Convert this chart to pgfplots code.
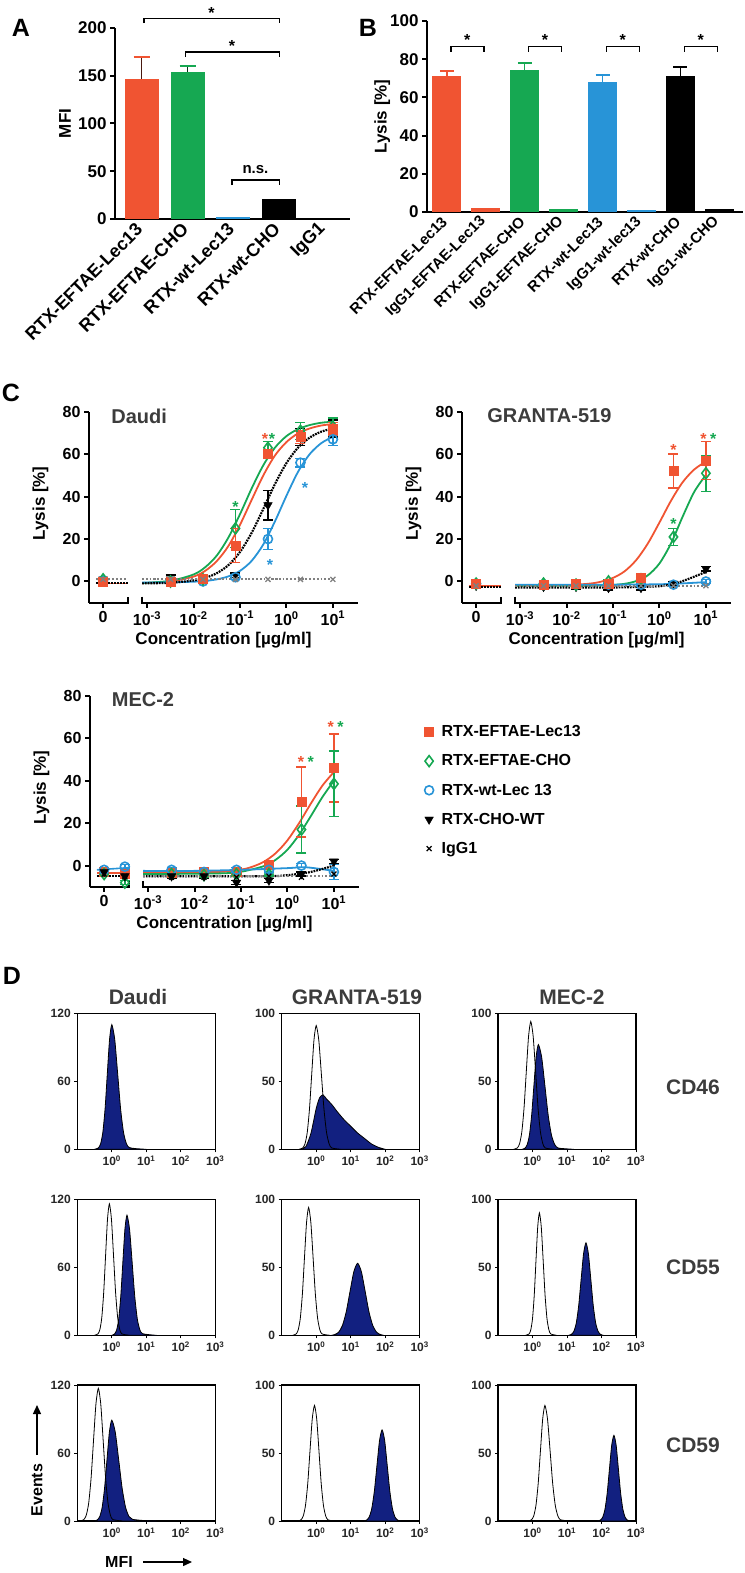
\documentclass[border=0pt]{standalone}
\usepackage{pgfplots}
\pgfplotsset{compat=1.18}
\usepackage{fontspec}
\setmainfont{Liberation Sans}
\usetikzlibrary{arrows.meta}
\definecolor{cred}{RGB}{240,84,50}
\definecolor{cgreen}{RGB}{22,168,82}
\definecolor{cblue}{RGB}{40,148,215}
\definecolor{cnavy}{RGB}{18,32,128}
\definecolor{ctitle}{RGB}{60,60,60}
\newcommand{\fs}[1]{\fontsize{#1}{#1}\selectfont\bfseries}
\pgfplotsset{
 base/.style={scale only axis, axis lines=left, axis line style={-, line width=2pt},
   every tick/.style={line width=2pt, black}, tick align=outside, major tick length=5pt,
   /pgf/number format/assume math mode=true, clip=false},
 cax/.style={base, width=269pt, height=191pt, xmin=-4.25, xmax=1.54, ymin=-10, ymax=80,
   ytick={0,20,...,80}, xtick={-3.946,-3,-2,-1,0,1},
   xticklabels={0,10\textsuperscript{-3},10\textsuperscript{-2},10\textsuperscript{-1},10\textsuperscript{0},10\textsuperscript{1}},
   x axis line style={draw=none}, ticklabel style={font=\fs{16}},
   xlabel={Concentration [µg/ml]}, xlabel style={font=\fs{17}},
   ylabel={Lysis [\%]}, ylabel style={at={(axis description cs:-0.18,0.52)}, anchor=center, font=\fs{17}}},
 cur/.style={line width=1.8pt, smooth, forget plot},
 mred/.style={only marks, mark=square*, mark size=4.5pt, cred, error bars/.cd, y dir=both, y explicit,
   error bar style={cred, line width=1.4pt}, error mark options={rotate=90, cred, line width=1.4pt, mark size=5pt}},
 mgreen/.style={only marks, mark=diamond, mark size=5.5pt, cgreen, line width=1.6pt, mark options={fill=white},
   error bars/.cd, y dir=both, y explicit,
   error bar style={cgreen, line width=1.4pt}, error mark options={rotate=90, cgreen, line width=1.4pt, mark size=5pt}},
 mblue/.style={only marks, mark=o, mark size=4.5pt, cblue, line width=1.6pt, mark options={fill=white},
   error bars/.cd, y dir=both, y explicit,
   error bar style={cblue, line width=1.4pt}, error mark options={rotate=90, cblue, line width=1.4pt, mark size=5pt}},
 mblack/.style={only marks, mark=triangle*, mark size=5pt, black, mark options={rotate=180},
   error bars/.cd, y dir=both, y explicit,
   error bar style={black, line width=1.4pt}, error mark options={rotate=90, black, line width=1.4pt, mark size=5pt}},
 migg/.style={only marks, mark=x, mark size=3.5pt, gray, line width=1.3pt},
 hax/.style={scale only axis, width=138pt, height=136pt, xmin=-1, xmax=3, ymin=0,
   axis line style={line width=1.4pt}, every tick/.style={line width=1pt, black}, tick align=outside,
   major tick length=3pt, tick pos=left, xtick={0,1,2,3},
   xticklabels={10\textsuperscript{0},10\textsuperscript{1},10\textsuperscript{2},10\textsuperscript{3}},
   ticklabel style={font=\fs{12}, text=black!85}, /pgf/number format/assume math mode=true},
 hfill/.style={fill=cnavy, draw=black, line width=0.8pt, smooth, tension=0.4},
 hctl/.style={black, line width=0.8pt, smooth, tension=0.4},
}
\begin{document}
\begin{tikzpicture}
\path[use as bounding box] (0pt,0pt) rectangle (744pt,-1573pt);
% panel letters
\node[font=\fs{25}] at (21pt,-28pt) {A};
\node[font=\fs{25}] at (368pt,-28pt) {B};
\node[font=\fs{25}] at (11pt,-393pt) {C};
\node[font=\fs{25}] at (12pt,-976pt) {D};

% ---------------- A ----------------
\begin{axis}[base, at={(115pt,-28pt)}, anchor=north west, width=235pt, height=191pt,
  xmin=-0.58, xmax=4.54, ymin=0, ymax=200, ytick={0,50,...,200},
  xtick={0,...,4}, xticklabels={RTX-EFTAE-Lec13,RTX-EFTAE-CHO,RTX-wt-Lec13,RTX-wt-CHO,IgG1},
  xtick style={draw=none}, xticklabel style={rotate=45, anchor=east, font=\fs{18}},
  yticklabel style={font=\fs{17}},
  ylabel={MFI}, ylabel style={at={(axis description cs:-0.213,0.5)}, anchor=center, font=\fs{17}}]
\addplot[ybar, bar shift=0pt, bar width=34pt, fill=cred, draw=none,
  error bars/.cd, y dir=plus, y explicit, error bar style={black!70!cred, line width=1pt},
  error mark options={rotate=90, cred, line width=2pt, mark size=8pt}] coordinates {(0,147) +- (0,23)};
\addplot[ybar, bar shift=0pt, bar width=34pt, fill=cgreen, draw=none,
  error bars/.cd, y dir=plus, y explicit, error bar style={black!70!cgreen, line width=1pt},
  error mark options={rotate=90, cgreen, line width=2pt, mark size=8pt}] coordinates {(1,154) +- (0,6)};
\addplot[ybar, bar shift=0pt, bar width=34pt, fill=cblue, draw=none] coordinates {(2,2)};
\addplot[ybar, bar shift=0pt, bar width=34pt, fill=black, draw=none] coordinates {(3,21)};
\addplot[ybar, bar shift=0pt, bar width=34pt, fill=black, draw=none] coordinates {(4,0.5)};
\draw[line width=1.3pt] (axis cs:0.05,205.2) -- (axis cs:0.05,210.2) -- (axis cs:3,210.2) -- (axis cs:3,205.2);
\node[font=\fs{16}] at (axis cs:1.52,216) {*};
\draw[line width=1.3pt] (axis cs:0.95,169.6) -- (axis cs:0.95,174.9) -- (axis cs:3,174.9) -- (axis cs:3,169.6);
\node[font=\fs{16}] at (axis cs:1.97,181) {*};
\draw[line width=1.3pt] (axis cs:1.97,35.6) -- (axis cs:1.97,40.8) -- (axis cs:3,40.8) -- (axis cs:3,35.6);
\node[font=\fs{15}] at (axis cs:2.48,52) {n.s.};
\end{axis}

% ---------------- B ----------------
\begin{axis}[base, at={(427pt,-21pt)}, anchor=north west, width=316pt, height=191pt,
  xmin=-0.514, xmax=7.61, ymin=0, ymax=100, ytick={0,20,...,100},
  xtick={0,...,7}, xticklabels={RTX-EFTAE-Lec13,IgG1-EFTAE-Lec13,RTX-EFTAE-CHO,IgG1-EFTAE-CHO,RTX-wt-Lec13,IgG1-wt-lec13,RTX-wt-CHO,IgG1-wt-CHO},
  xtick style={draw=none}, xticklabel style={rotate=45, anchor=east, font=\fs{15}},
  yticklabel style={font=\fs{17}},
  ylabel={Lysis [\%]}, ylabel style={at={(axis description cs:-0.142,0.5)}, anchor=center, font=\fs{17}}]
\addplot[ybar, bar shift=0pt, bar width=29pt, fill=cred, draw=none,
  error bars/.cd, y dir=plus, y explicit, error bar style={cred, line width=1.2pt},
  error mark options={rotate=90, cred, line width=2pt, mark size=7pt}] coordinates {(0,71) +- (0,3)};
\addplot[ybar, bar shift=0pt, bar width=29pt, fill=cred, draw=none] coordinates {(1,2)};
\addplot[ybar, bar shift=0pt, bar width=29pt, fill=cgreen, draw=none,
  error bars/.cd, y dir=plus, y explicit, error bar style={cgreen, line width=1.2pt},
  error mark options={rotate=90, cgreen, line width=2pt, mark size=7pt}] coordinates {(2,74.5) +- (0,3.5)};
\addplot[ybar, bar shift=0pt, bar width=29pt, fill=cgreen, draw=none] coordinates {(3,1.5)};
\addplot[ybar, bar shift=0pt, bar width=29pt, fill=cblue, draw=none,
  error bars/.cd, y dir=plus, y explicit, error bar style={cblue, line width=1.2pt},
  error mark options={rotate=90, cblue, line width=2pt, mark size=7pt}] coordinates {(4,68) +- (0,3.5)};
\addplot[ybar, bar shift=0pt, bar width=29pt, fill=cblue, draw=none] coordinates {(5,1)};
\addplot[ybar, bar shift=0pt, bar width=29pt, fill=black, draw=none,
  error bars/.cd, y dir=plus, y explicit, error bar style={black, line width=1.2pt},
  error mark options={rotate=90, black, line width=2pt, mark size=7pt}] coordinates {(6,71.2) +- (0,4.5)};
\addplot[ybar, bar shift=0pt, bar width=29pt, fill=black, draw=none] coordinates {(7,1.8)};
\draw[line width=1.3pt] (axis cs:0.1,83.8) -- (axis cs:0.1,86.5) -- (axis cs:0.95,86.5) -- (axis cs:0.95,83.8);
\node[font=\fs{16}] at (axis cs:0.52,90) {*};
\draw[line width=1.3pt] (axis cs:2.1,83.8) -- (axis cs:2.1,86.5) -- (axis cs:2.95,86.5) -- (axis cs:2.95,83.8);
\node[font=\fs{16}] at (axis cs:2.52,90) {*};
\draw[line width=1.3pt] (axis cs:4.1,83.8) -- (axis cs:4.1,86.5) -- (axis cs:4.95,86.5) -- (axis cs:4.95,83.8);
\node[font=\fs{16}] at (axis cs:4.52,90) {*};
\draw[line width=1.3pt] (axis cs:6.1,83.8) -- (axis cs:6.1,86.5) -- (axis cs:6.95,86.5) -- (axis cs:6.95,83.8);
\node[font=\fs{16}] at (axis cs:6.52,90) {*};
\end{axis}

% ---------------- C: Daudi ----------------
\begin{axis}[cax, at={(89pt,-411.7pt)}, anchor=north west]
\draw[line width=2pt] (axis cs:-4.25,-10) -- (axis cs:-3.409,-10) -- ++(0pt,6pt);
\draw[line width=2pt] (axis cs:-3.108,-10) ++(0pt,6pt) -- (axis cs:-3.108,-10) -- (axis cs:1.54,-10);
\node[font=\fs{20}, text=ctitle] at (axis cs:-3.17,78) {Daudi};
\addplot[cur, cred] coordinates {(-3.108,-0.8) (-2.5,0) (-2,2.3) (-1.75,5.0) (-1.5,9.6) (-1.25,16.7) (-1,26.7) (-0.75,38.4) (-0.5,49.9) (-0.25,59.3) (0,65.7) (0.25,69.8) (0.5,72.1) (0.75,73.5) (1,74.2)};
\addplot[cur, cgreen] coordinates {(-3.108,-0.7) (-2.5,0.3) (-2,3.3) (-1.75,6.7) (-1.5,12.2) (-1.25,20.7) (-1,31.7) (-0.75,43.8) (-0.5,54.7) (-0.25,63.0) (0,68.5) (0.25,71.8) (0.5,73.7) (0.75,74.8) (1,75.3)};
\addplot[cur, cblue] coordinates {(-3.108,-0.5) (-2.5,-0.4) (-2,-0.1) (-1.75,0.25) (-1.5,1.0) (-1.25,2.4) (-1,5.0) (-0.75,9.7) (-0.5,17.4) (-0.25,28.2) (0,40.4) (0.25,51.7) (0.5,60.0) (0.75,65.2) (1,68.2)};
\addplot[cur, black, densely dotted, line width=2.2pt] coordinates {(-3.108,-0.9) (-2.5,-0.6) (-2,0.5) (-1.75,1.7) (-1.5,3.9) (-1.25,7.7) (-1,13.9) (-0.75,22.9) (-0.5,34.1) (-0.25,45.8) (0,55.8) (0.25,63.1) (0.5,67.8) (0.75,70.6) (1,72.1)};
\addplot[cur, gray, dotted, line width=2pt] coordinates {(-3.108,1) (1,1)};
\addplot[cred, line width=1.6pt, forget plot] coordinates {(-4.1,-1) (-3.42,-1)};
\addplot[black, densely dotted, line width=2pt, forget plot] coordinates {(-4.1,-0.5) (-3.42,-0.5)};
\addplot[gray, dotted, line width=2pt, forget plot] coordinates {(-4.1,1) (-3.42,1)};
\addplot[mblack] coordinates {(-3.946,1) +- (0,1) (-2.495,1) +- (0,2) (-1.796,2) +- (0,1) (-1.097,3) +- (0,1) (-0.398,36) +- (0,7) (0.301,68) +- (0,4) (1,72) +- (0,4)};
\addplot[mblue] coordinates {(-3.946,0.5) +- (0,1) (-2.495,0) +- (0,1) (-1.796,0) +- (0,1) (-1.097,2) +- (0,1) (-0.398,20) +- (0,5) (0.301,56) +- (0,2) (1,67) +- (0,3)};
\addplot[mgreen] coordinates {(-3.946,1) +- (0,1) (-2.495,0) +- (0,1) (-1.796,1) +- (0,1) (-1.097,25) +- (0,9) (-0.398,63) +- (0,3) (0.301,71) +- (0,4) (1,73) +- (0,4)};
\addplot[mred] coordinates {(-3.946,0) +- (0,1) (-2.495,0) +- (0,1) (-1.796,1.5) +- (0,1) (-1.097,17) +- (0,8) (-0.398,60) +- (0,2) (0.301,68) +- (0,3) (1,72) +- (0,3)};
\addplot[migg] coordinates {(-3.946,1) (-2.495,1) (-1.796,1) (-1.097,1) (-0.398,1) (0.301,1) (1,1)};
\node[font=\fs{16}, text=cred] at (axis cs:-0.46,67) {*};
\node[font=\fs{16}, text=cgreen] at (axis cs:-0.31,67) {*};
\node[font=\fs{16}, text=cgreen] at (axis cs:-1.097,35) {*};
\node[font=\fs{16}, text=cblue] at (axis cs:0.40,44) {*};
\node[font=\fs{16}, text=cblue] at (axis cs:-0.355,8) {*};
\end{axis}

% ---------------- C: GRANTA ----------------
\begin{axis}[cax, at={(462pt,-411.7pt)}, anchor=north west]
\draw[line width=2pt] (axis cs:-4.25,-10) -- (axis cs:-3.409,-10) -- ++(0pt,6pt);
\draw[line width=2pt] (axis cs:-3.108,-10) ++(0pt,6pt) -- (axis cs:-3.108,-10) -- (axis cs:1.54,-10);
\node[font=\fs{20}, text=ctitle] at (axis cs:-2.37,78) {GRANTA-519};
\addplot[cur, cred] coordinates {(-3.108,-2) (-2,-1.7) (-1.5,-1.0) (-1.25,-0.05) (-1,1.7) (-0.75,4.8) (-0.5,10.1) (-0.25,17.9) (0,27.8) (0.25,38.1) (0.5,46.8) (0.75,52.8) (1,56.5)};
\addplot[cur, cgreen] coordinates {(-3.108,-2) (-1.5,-2) (-1,-1.6) (-0.75,-1.1) (-0.5,0.2) (-0.25,2.9) (0,8.5) (0.25,18.0) (0.5,30.6) (0.75,42.3) (1,50.2)};
\addplot[cur, cblue] coordinates {(-3.108,-1.5) (-1,-1.5) (0,-1.3) (0.5,-0.9) (1,-0.3)};
\addplot[cur, black, densely dotted, line width=2.2pt] coordinates {(-3.108,-2.8) (-1,-2.8) (-0.5,-2.6) (0,-2.2) (0.3,-1.2) (0.6,1) (1,4.5)};
\addplot[cur, gray, dotted, line width=2pt] coordinates {(-3.108,-2) (1,-2)};
\addplot[cred, line width=1.6pt, forget plot] coordinates {(-4.1,-2) (-3.42,-2)};
\addplot[black, densely dotted, line width=2pt, forget plot] coordinates {(-4.1,-2.8) (-3.42,-2.8)};
\addplot[mblack] coordinates {(-3.946,-2) +- (0,1) (-2.495,-2.5) +- (0,1) (-1.796,-2.5) +- (0,1) (-1.097,-3) +- (0,1) (-0.398,-3) +- (0,1) (0.301,-1) +- (0,1) (1,6) +- (0,1)};
\addplot[mblue] coordinates {(-3.946,-1) +- (0,1) (-2.495,-1.5) +- (0,1) (-1.796,-1.5) +- (0,1) (-1.097,-1.5) +- (0,1) (-0.398,-1.5) +- (0,1) (0.301,-1.5) +- (0,1) (1,0) +- (0,1)};
\addplot[mgreen] coordinates {(-3.946,-1) +- (0,1) (-2.495,-1) +- (0,1) (-1.796,-1.5) +- (0,1) (-1.097,0) +- (0,1) (-0.398,1) +- (0,1) (0.301,21) +- (0,4) (1,51) +- (0,8.5)};
\addplot[mred] coordinates {(-3.946,-1) +- (0,1) (-2.495,-1.5) +- (0,1) (-1.796,-1) +- (0,1) (-1.097,-1) +- (0,1) (-0.398,2) +- (0,1) (0.301,52) +- (0,8) (1,57) +- (0,9)};
\addplot[migg] coordinates {(-3.946,-2) (-2.495,-2) (-1.796,-2) (-1.097,-2) (-0.398,-2) (0.301,-2) (1,-2)};
\node[font=\fs{16}, text=cred] at (axis cs:0.301,62) {*};
\node[font=\fs{16}, text=cred] at (axis cs:0.95,67) {*};
\node[font=\fs{16}, text=cgreen] at (axis cs:1.16,67) {*};
\node[font=\fs{16}, text=cgreen] at (axis cs:0.301,27) {*};
\end{axis}

% ---------------- C: MEC-2 ----------------
\begin{axis}[cax, at={(90pt,-695.8pt)}, anchor=north west,
  legend style={at={(axis description cs:1.232,0.866)}, anchor=north west, draw=none, fill=none,
    font=\fs{16}, row sep=12.5pt, column sep=6pt, cells={anchor=west}}]
\draw[line width=2pt] (axis cs:-4.25,-10) -- (axis cs:-3.409,-10) -- ++(0pt,6pt);
\draw[line width=2pt] (axis cs:-3.108,-10) ++(0pt,6pt) -- (axis cs:-3.108,-10) -- (axis cs:1.54,-10);
\node[font=\fs{20}, text=ctitle] at (axis cs:-3.11,78) {MEC-2};
\addplot[cur, cred] coordinates {(-3.108,-3.5) (-1.5,-3.0) (-1,-1.9) (-0.75,-0.5) (-0.5,1.9) (-0.25,5.9) (0,11.9) (0.25,20.0) (0.5,29.1) (0.75,37.6) (1,44.1)};
\addplot[cur, cgreen] coordinates {(-3.108,-4) (-1.5,-3.7) (-1,-2.9) (-0.5,-0.2) (-0.25,2.8) (0,7.5) (0.25,14.5) (0.5,23.2) (0.75,32.2) (1,40.0)};
\addplot[cur, cblue] coordinates {(-3.108,-2.5) (-2,-2.5) (-1,-2) (0,-1.2) (0.4,-0.8) (1,-2.5)};
\addplot[cur, black, densely dotted, line width=2.2pt] coordinates {(-3.108,-5) (-0.5,-5) (0,-4.5) (0.5,-3) (1,0)};
\addplot[cur, gray, dotted, line width=2pt] coordinates {(-3.108,-5) (1,-5)};
\addplot[cred, line width=1.6pt, forget plot] coordinates {(-4.1,-3.5) (-3.42,-3.5)};
\addplot[cblue, line width=1.6pt, forget plot] coordinates {(-4.1,-2) (-3.42,-1)};
\addplot[black, densely dotted, line width=2pt, forget plot] coordinates {(-4.1,-5) (-3.42,-5)};
\addplot[mred] coordinates {(-3.946,-3) +- (0,1) (-3.5,-4) +- (0,1) (-2.495,-3.5) +- (0,1) (-1.796,-3) +- (0,1) (-1.097,-3) +- (0,1) (-0.398,0.5) +- (0,1) (0.301,30) +- (0,16.5) (1,46) +- (0,16)};
\addlegendentry{RTX-EFTAE-Lec13}
\addplot[mgreen] coordinates {(-3.946,-4) +- (0,1) (-3.5,-8) +- (0,1) (-2.495,-4) +- (0,1) (-1.796,-4.5) +- (0,1) (-1.097,-4) +- (0,1) (-0.398,-4) +- (0,1) (0.301,17) +- (0,11) (1,38.5) +- (0,15.5)};
\addlegendentry{RTX-EFTAE-CHO}
\addplot[mblue] coordinates {(-3.946,-2) +- (0,1) (-3.5,-0.5) +- (0,1) (-2.495,-2) +- (0,1) (-1.796,-3) +- (0,1) (-1.097,-2) +- (0,1) (-0.398,-2) +- (0,1) (0.301,0) +- (0,1) (1,-3) +- (0,3.5)};
\addlegendentry{RTX-wt-Lec 13}
\addplot[mblack] coordinates {(-3.946,-3) +- (0,1) (-3.5,-5) +- (0,1) (-2.495,-5) +- (0,1) (-1.796,-5) +- (0,1) (-1.097,-8) +- (0,1) (-0.398,-7) +- (0,1) (0.301,-4) +- (0,1) (1,2) +- (0,1)};
\addlegendentry{RTX-CHO-WT}
\addplot[migg, black] coordinates {(-3.946,-4) (-3.5,-5) (-2.495,-5.5) (-1.796,-5.5) (-1.097,-5.5) (-0.398,-5) (0.301,-5.5) (1,-4)};
\addlegendentry{IgG1}
\node[font=\fs{16}, text=cred] at (axis cs:0.29,49) {*};
\node[font=\fs{16}, text=cgreen] at (axis cs:0.50,49) {*};
\node[font=\fs{16}, text=cred] at (axis cs:0.93,65.5) {*};
\node[font=\fs{16}, text=cgreen] at (axis cs:1.14,65.5) {*};
\end{axis}

% ---------------- D ----------------
\node[font=\fs{21}, text=ctitle] at (138pt,-997pt) {Daudi};
\node[font=\fs{21}, text=ctitle] at (357pt,-997pt) {GRANTA-519};
\node[font=\fs{21}, text=ctitle] at (572pt,-997pt) {MEC-2};
\node[font=\fs{21}, text=ctitle] at (693pt,-1087pt) {CD46};
\node[font=\fs{21}, text=ctitle] at (693pt,-1267pt) {CD55};
\node[font=\fs{21}, text=ctitle] at (693pt,-1445pt) {CD59};
\node[font=\fs{16}, rotate=90] at (37pt,-1490pt) {Events};
\draw[line width=1.3pt, -{Triangle[length=9pt,width=8pt]}] (37pt,-1455pt) -- (37pt,-1405pt);
\node[font=\fs{16}] at (119pt,-1562pt) {MFI};
\draw[line width=1.3pt, -{Triangle[length=9pt,width=8pt]}] (143pt,-1562pt) -- (192pt,-1562pt);

% row 1 CD46
\begin{axis}[hax, at={(77.3pt,-1013.3pt)}, anchor=north west, ymax=120, ytick={0,60,120}]
\addplot[hfill] coordinates {(-0.5,0) (-0.39,1.2) (-0.325,4.8) (-0.26,14.9) (-0.195,35.7) (-0.13,66.8) (-0.065,97) (0,110) (0.085,97) (0.17,66.8) (0.255,35.7) (0.34,14.9) (0.425,4.8) (0.51,1.5) (0.7,0.6) (1.0,0)} \closedcycle;
\end{axis}
\begin{axis}[hax, at={(281.7pt,-1013.3pt)}, anchor=north west, ymax=100, ytick={0,50,100}]
\addplot[hfill] coordinates {(-0.45,0) (-0.3,2) (-0.15,12) (0,30) (0.1,38) (0.2,40) (0.3,37) (0.45,33) (0.6,28) (0.8,22) (1.0,17) (1.2,12) (1.4,8) (1.6,4) (1.8,1.5) (2.0,0)} \closedcycle;
\addplot[hctl] coordinates {(-0.5,0) (-0.39,1.0) (-0.325,4.0) (-0.26,12.3) (-0.195,29.6) (-0.13,55.2) (-0.065,80.3) (0,91) (0.075,80.3) (0.15,55.2) (0.225,29.6) (0.3,12.3) (0.375,4.0) (0.45,1.0) (0.7,0)};
\end{axis}
\begin{axis}[hax, at={(498pt,-1013.3pt)}, anchor=north west, ymax=100, ytick={0,50,100}]
\addplot[hfill] coordinates {(-0.3,0) (-0.22,0.8) (-0.155,3.4) (-0.09,10.4) (-0.025,25.0) (0.04,46.7) (0.105,67.9) (0.17,77) (0.265,67.9) (0.36,46.7) (0.455,25.0) (0.55,10.4) (0.645,3.4) (0.74,1.0) (0.9,0.5) (1.2,0)} \closedcycle;
\addplot[hctl] coordinates {(-0.55,0) (-0.44,1.0) (-0.375,4.1) (-0.31,12.7) (-0.245,30.5) (-0.18,57.1) (-0.115,82.9) (-0.05,94) (0.02,82.9) (0.09,57.1) (0.16,30.5) (0.23,12.7) (0.30,4.1) (0.37,1.0) (0.6,0)};
\end{axis}
% row 2 CD55
\begin{axis}[hax, at={(77.3pt,-1199.3pt)}, anchor=north west, ymax=120, ytick={0,60,120}]
\addplot[hfill] coordinates {(0,0) (0.08,1.2) (0.14,4.7) (0.20,14.3) (0.26,34.5) (0.32,64.3) (0.38,93.5) (0.44,106) (0.515,93.5) (0.59,64.3) (0.665,34.5) (0.74,14.3) (0.815,4.7) (0.89,1.5) (1.1,0.5) (1.3,0)} \closedcycle;
\addplot[hctl] coordinates {(-0.5,0) (-0.40,1.3) (-0.345,5.1) (-0.29,15.7) (-0.235,37.7) (-0.18,70.4) (-0.125,102.3) (-0.07,116) (-0.01,102.3) (0.05,70.4) (0.11,37.7) (0.17,15.7) (0.23,5.1) (0.29,1.3) (0.5,0)};
\end{axis}
\begin{axis}[hax, at={(281.7pt,-1199.3pt)}, anchor=north west, ymax=100, ytick={0,50,100}]
\addplot[hfill] coordinates {(0.45,0) (0.54,0.6) (0.65,2.3) (0.76,7.2) (0.87,17.2) (0.98,32.2) (1.09,46.7) (1.2,53) (1.31,46.7) (1.42,32.2) (1.53,17.2) (1.64,7.2) (1.75,2.3) (1.86,0.6) (1.95,0)} \closedcycle;
\addplot[hctl] coordinates {(-0.68,0) (-0.58,1.0) (-0.52,4.1) (-0.46,12.7) (-0.40,30.5) (-0.34,57.1) (-0.28,82.9) (-0.22,94) (-0.155,82.9) (-0.09,57.1) (-0.025,30.5) (0.04,12.7) (0.105,4.1) (0.17,1.0) (0.4,0)};
\end{axis}
\begin{axis}[hax, at={(498pt,-1199.3pt)}, anchor=north west, ymax=100, ytick={0,50,100}]
\addplot[hfill] coordinates {(1.05,0) (1.13,0.75) (1.20,3.0) (1.27,9.2) (1.34,22.1) (1.41,41.3) (1.48,60.0) (1.55,68) (1.62,60.0) (1.69,41.3) (1.76,22.1) (1.83,9.2) (1.90,3.0) (1.97,0.75) (2.05,0)} \closedcycle;
\addplot[hctl] coordinates {(-0.2,0) (-0.10,1.0) (-0.05,4.0) (0.0,12.2) (0.05,29.2) (0.10,54.6) (0.15,79.4) (0.2,90) (0.255,79.4) (0.31,54.6) (0.365,29.2) (0.42,12.2) (0.475,4.0) (0.53,1.0) (0.7,0)};
\end{axis}
% row 3 CD59
\begin{axis}[hax, at={(77.3pt,-1385pt)}, anchor=north west, ymax=120, ytick={0,60,120}]
\addplot[hfill] coordinates {(-0.5,0) (-0.42,1.0) (-0.35,3.9) (-0.28,12.0) (-0.21,28.9) (-0.14,54.0) (-0.07,78.5) (0,89) (0.1,78.5) (0.2,54.0) (0.3,28.9) (0.4,12.0) (0.5,3.9) (0.6,1.5) (0.9,0.5) (1.3,0)} \closedcycle;
\addplot[hctl] coordinates {(-0.9,0) (-0.81,1.3) (-0.74,5.1) (-0.67,15.8) (-0.60,38.0) (-0.53,71.0) (-0.46,103.2) (-0.39,117) (-0.32,103.2) (-0.25,71.0) (-0.18,38.0) (-0.11,15.8) (-0.04,5.1) (0.03,1.3) (0.3,0)};
\end{axis}
\begin{axis}[hax, at={(281.7pt,-1385pt)}, anchor=north west, ymax=100, ytick={0,50,100}]
\addplot[hfill] coordinates {(1.38,0) (1.46,0.7) (1.535,2.9) (1.61,9.1) (1.685,21.8) (1.76,40.6) (1.835,59.1) (1.91,67) (1.985,59.1) (2.06,40.6) (2.135,21.8) (2.21,9.1) (2.285,2.9) (2.36,0.7) (2.45,0)} \closedcycle;
\addplot[hctl] coordinates {(-0.52,0) (-0.44,0.9) (-0.375,3.7) (-0.31,11.5) (-0.245,27.6) (-0.18,51.6) (-0.115,75.0) (-0.05,85) (0.015,75.0) (0.08,51.6) (0.145,27.6) (0.21,11.5) (0.275,3.7) (0.34,0.9) (0.5,0)};
\end{axis}
\begin{axis}[hax, at={(498pt,-1385pt)}, anchor=north west, ymax=100, ytick={0,50,100}]
\addplot[hfill] coordinates {(1.88,0) (1.97,0.7) (2.035,2.8) (2.10,8.5) (2.165,20.5) (2.23,38.2) (2.295,55.6) (2.36,63) (2.425,55.6) (2.49,38.2) (2.555,20.5) (2.62,8.5) (2.685,2.8) (2.75,0.7) (2.85,0)} \closedcycle;
\addplot[hctl] coordinates {(-0.12,0) (-0.03,0.9) (0.035,3.7) (0.10,11.5) (0.165,27.6) (0.23,51.6) (0.295,75.0) (0.36,85) (0.435,75.0) (0.51,51.6) (0.585,27.6) (0.66,11.5) (0.735,3.7) (0.81,0.9) (1.0,0.3) (1.3,0)};
\end{axis}
\end{tikzpicture}
\end{document}
